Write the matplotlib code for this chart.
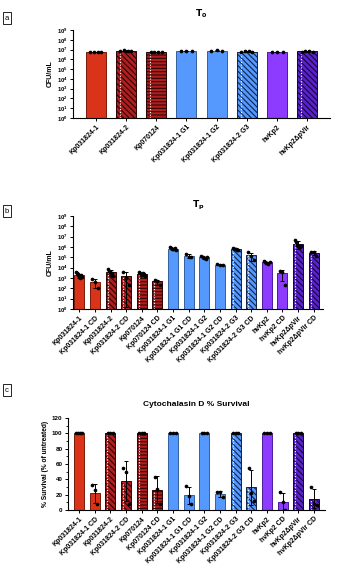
import numpy as np
import matplotlib.pyplot as plt
from matplotlib.ticker import NullLocator, MultipleLocator

plt.rcParams['font.family'] = ['Liberation Sans', 'DejaVu Sans']
plt.rcParams['hatch.linewidth'] = 0.8

# ---- data ----
t0_labels = ["Kp031824-1", "Kp031824-2", "Kp070124", "Kp031824-1 G1",
             "Kp031824-1 G2", "Kp031824-2 G3", "hvKp2", "hvKp2ΔpVir"]
t0_points = [
    [5.5e6, 5.8e6, 6.0e6, 6.2e6],
    [6.5e6, 8.5e6, 7.0e6, 6.8e6],
    [5.2e6, 5.8e6, 6.2e6, 6.0e6],
    [7.0e6, 8.0e6, 7.2e6],
    [8.0e6, 8.2e6, 7.8e6],
    [5.8e6, 6.5e6, 6.8e6, 6.2e6],
    [6.0e6, 6.2e6, 5.9e6],
    [6.0e6, 7.0e6, 6.5e6, 6.2e6],
]

tp_labels = ["Kp031824-1", "Kp031824-1 CD", "Kp031824-2", "Kp031824-2 CD",
             "Kp070124", "Kp070124 CD", "Kp031824-1 G1", "Kp031824-1 G1 CD",
             "Kp031824-1 G2", "Kp031824-1 G2 CD", "Kp031824-2 G3",
             "Kp031824-2 G3 CD", "hvKp2", "hvKp2 CD", "hvKp2ΔpVir",
             "hvKp2ΔpVir CD"]
tp_points = [
    [3.5e3, 2.8e3, 2.2e3, 1.8e3, 1.5e3, 1.2e3, 1.0e3, 1.6e3, 2.0e3, 1.3e3],
    [8.0e2, 4.5e2, 1.2e2],
    [8.0e3, 5.0e3, 3.5e3, 2.5e3, 2.0e3, 3.0e3, 1.5e3],
    [4.0e3, 1.0e3, 2.0e2],
    [3.5e3, 3.0e3, 2.5e3, 2.0e3, 1.8e3, 2.8e3, 2.2e3, 1.5e3],
    [6.5e2, 5.5e2, 2.0e2],
    [9.0e5, 8.0e5, 7.0e5, 6.5e5, 6.0e5, 7.5e5, 5.5e5],
    [2.0e5, 1.2e5, 1.0e5],
    [1.3e5, 1.0e5, 9.0e4, 8.0e4, 7.0e4, 1.1e5],
    [2.2e4, 2.0e4, 1.7e4],
    [8.0e5, 7.0e5, 6.5e5, 6.0e5, 5.5e5, 5.0e5],
    [3.0e5, 1.5e5, 5.0e4],
    [4.0e4, 3.5e4, 3.0e4, 2.8e4, 2.5e4, 3.2e4],
    [5.0e3, 4.2e3, 2.0e2],
    [4.5e6, 3.0e6, 1.5e6, 1.2e6, 1.0e6, 1.3e6],
    [3.5e5, 3.0e5, 1.5e5],
]

cd_labels = tp_labels
cd_points = [
    [100, 100, 100, 100], [32, 26, 8],
    [100, 100, 100], [55, 50, 8],
    [100, 100, 100], [43, 28, 8],
    [100, 100, 100], [31, 18, 8],
    [100, 100, 100], [23, 23, 17],
    [100, 100, 100], [55, 22, 12],
    [100, 100, 100], [23, 10, 0],
    [100, 100, 100], [30, 8, 7],
]

# ---- styles per strain ----
fills = ['#D9341A', '#B01E1E', '#B01E1E', '#5599FF', '#5599FF', '#5599FF', '#8C3BFF', '#5A22CC']
edges = ['#7A1A0A', '#2B0505', '#2B0505', '#35609F', '#35609F', '#10234A', '#4A1A9A', '#14063A']
hatches = [None, '\\\\\\\\\\\\', '-----', None, None, '\\\\\\\\\\\\', None, '\\\\\\\\\\\\']
dotted = [False, True, True, False, False, True, False, True]

W, H = 340, 572
fig = plt.figure(figsize=(W / 100, H / 100), dpi=100)


def ax_at(left, top, right, bottom):
    return fig.add_axes([left / W, 1 - bottom / H, (right - left) / W, (bottom - top) / H])


def draw(ax, points, labels, style_idx, log, width=0.65):
    x = np.arange(len(points))
    if log:
        ax.set_yscale('log')
    for i, pts in enumerate(points):
        s = style_idx[i]
        pts = np.array(pts, dtype=float)
        m, sd = pts.mean(), pts.std(ddof=1)
        ax.bar(x[i], m, width=width, color=fills[s], edgecolor=edges[s],
               hatch=hatches[s], linewidth=0.7, zorder=2)
        if dotted[s]:
            ax.vlines(x[i] - 0.3 * width, 1 if log else 0, m * 0.97 if log else m - 1,
                      colors='white', linestyles=(0, (1, 1.5)), linewidth=0.8, zorder=3)
        lo = min(sd, m - 1.5) if log else sd
        ax.errorbar(x[i], m, yerr=[[lo], [sd]], fmt='none', ecolor='black',
                    elinewidth=0.7, capsize=1.5, capthick=0.7, zorder=4)
        offs = np.linspace(-0.18, 0.18, len(pts)) * width / 0.65
        ax.scatter(x[i] + offs, pts, s=7, c='black', zorder=5, linewidths=0)
    ax.set_xticks(x)
    ax.set_xticklabels(labels, rotation=45, ha='right', rotation_mode='anchor',
                       fontsize=5, fontweight='bold')
    for sp in ['top', 'right']:
        ax.spines[sp].set_visible(False)
    for sp in ['left', 'bottom']:
        ax.spines[sp].set_linewidth(0.8)
    ax.tick_params(axis='both', length=2.5, width=0.7, pad=1.5)
    ax.tick_params(axis='y', labelsize=4.2)
    for t in ax.get_yticklabels():
        t.set_fontweight('bold')
    if log:
        ax.set_ylim(1, 1e9)
        ax.set_yticks([10.0 ** k for k in range(10)])
        ax.yaxis.set_minor_locator(NullLocator())


# panel a
ax1 = ax_at(73, 30, 330, 118)
draw(ax1, t0_points, t0_labels, list(range(8)), True, width=0.66)
ax1.set_xlim(-0.75, 7.75)
ax1.set_title(r'$\mathbf{T_0}$', fontsize=6.5, pad=10)
ax1.set_ylabel('CFU/mL', fontsize=5, fontweight='bold', labelpad=2)

# panel b
ax2 = ax_at(73, 216, 323, 309)
draw(ax2, tp_points, tp_labels, [i // 2 for i in range(16)], True, width=0.64)
ax2.set_xlim(-0.4, 15.6)
ax2.set_title(r'$\mathbf{T_p}$', fontsize=6.5, pad=6)
ax2.set_ylabel('CFU/mL', fontsize=5, fontweight='bold', labelpad=2)

# panel c
ax3 = ax_at(68, 418, 325, 510)
draw(ax3, cd_points, cd_labels, [i // 2 for i in range(16)], False, width=0.64)
ax3.set_xlim(-0.7, 15.7)
ax3.set_ylim(0, 120)
ax3.set_yticks(range(0, 121, 20))
ax3.yaxis.set_minor_locator(MultipleLocator(10))
ax3.tick_params(axis='y', which='minor', length=1.5, width=0.6)
ax3.tick_params(axis='y', labelsize=4.5)
ax3.set_title('Cytochalasin D % Survival', fontsize=6, fontweight='bold', pad=9)
ax3.set_ylabel('% Survival (% of untreated)', fontsize=4.8, fontweight='bold', labelpad=2)

for lab, y in [('a', 18), ('b', 211), ('c', 390)]:
    fig.text(7 / W, 1 - y / H, lab, fontsize=5.5, ha='center', va='center',
             bbox=dict(facecolor='white', edgecolor='black', linewidth=0.6, pad=1.5))

fig.savefig('out.png', dpi=100)
